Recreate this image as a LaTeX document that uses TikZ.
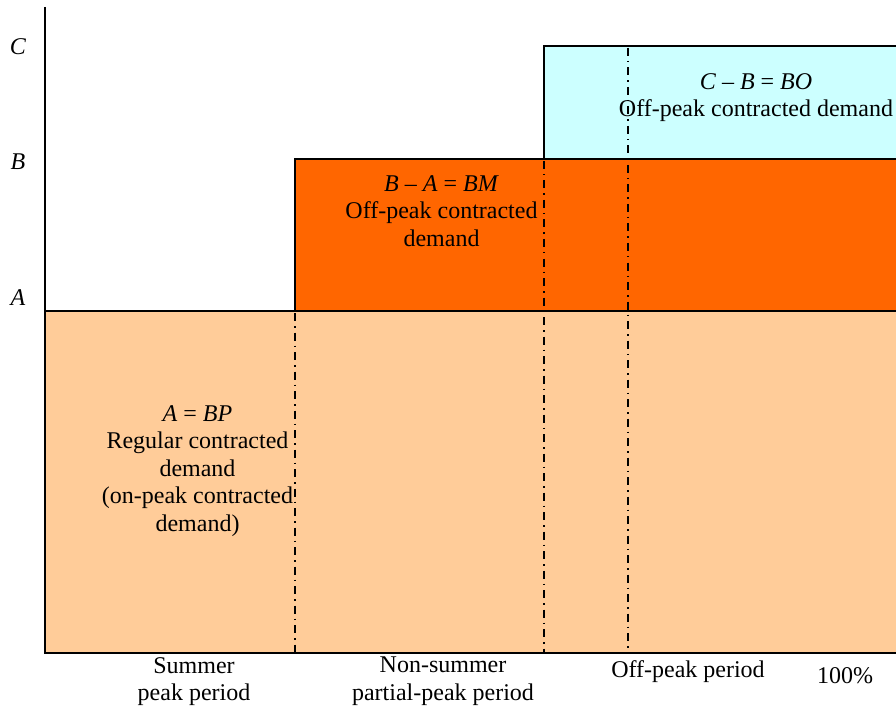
\documentclass[tikz,border=0pt]{standalone}
\usepackage{fontspec}
\setmainfont{Liberation Serif}
\definecolor{peach}{HTML}{FFCC99}
\definecolor{deeporange}{HTML}{FF6600}
\definecolor{palecyan}{HTML}{CCFFFF}
\begin{document}
\begin{tikzpicture}[x=1pt,y=-1pt,
  edge/.style={line width=1.6pt,black},
  dashdot/.style={line width=1.6pt,black,dash pattern=on 8pt off 5pt on 1.5pt off 5pt},
  lbl/.style={inner sep=0pt,font=\fontsize{24}{27.5}\selectfont,align=center},
  axlbl/.style={inner sep=0pt,font=\fontsize{24}{27.5}\selectfont\itshape}]
\useasboundingbox (0,0) rectangle (896,711);
% filled regions
\fill[peach] (45,311) rectangle (896,652);
\fill[deeporange] (295,159) rectangle (896,311);
\fill[palecyan] (544,46) rectangle (896,159);
% borders
\draw[edge] (45,311) -- (896,311);
\draw[edge] (295,311) -- (295,159) -- (896,159);
\draw[edge] (544,159) -- (544,46) -- (896,46);
% dash-dot period dividers
\draw[dashdot] (295,313) -- (295,652);
\draw[dashdot] (544,161) -- (544,652);
\draw[dashdot] (628,48) -- (628,652);
% axes
\draw[edge] (45,7) -- (45,653) -- (896,653);
% axis labels
\node[axlbl,anchor=base] (lc) at (18,55) {C};
\node[axlbl,anchor=base] (lb) at (18,170) {B};
\node[axlbl,anchor=base] (la) at (18,305) {A};
% region texts
\node[lbl,anchor=north] (tbo) at (756,73) {\textit{C} – \textit{B} = \textit{BO}\\Off-peak contracted demand};
\node[lbl,anchor=north] (tbm) at (441.5,175) {\textit{B} – \textit{A} = \textit{BM}\\Off-peak contracted\\demand};
\node[lbl,anchor=north] (tbp) at (197.5,405) {\textit{A} = \textit{BP}\\Regular contracted\\demand\\(on-peak contracted\\demand)};
% period labels
\node[lbl,anchor=north] (p1) at (194,657) {Summer\\peak period};
\node[lbl,anchor=north] (p2) at (443,657) {Non-summer\\partial-peak period};
\node[lbl,anchor=base] (p3) at (688,677) {Off-peak period};
\node[lbl,anchor=base] (p4) at (845,683) {100\%};
\end{tikzpicture}
\end{document}
